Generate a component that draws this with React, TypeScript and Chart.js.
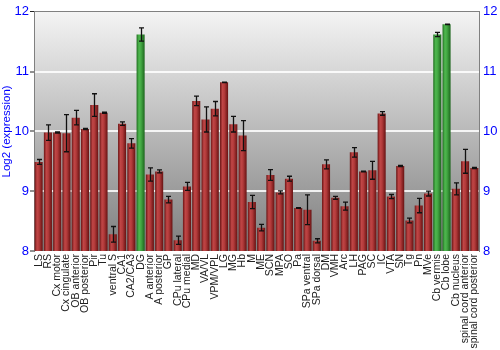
import React, { useEffect, useRef } from "react";
import { Chart, registerables } from "chart.js";

Chart.register(...registerables);

const categories = [
  "LS", "RS", "Cx motor", "Cx cingulate", "OB anterior", "OB posterior", "Pir", "Tu",
  "ventral S", "CA1", "CA2/CA3", "DG", "A anterior", "A posterior", "GP", "CPu lateral",
  "CPu medial", "MD", "VA/VL", "VPM/VPL", "LG", "MG", "Hb", "M", "ME", "SCN", "MPA",
  "SO", "Pa", "SPa ventral", "SPa dorsal", "DM", "VMH", "Arc", "LH", "PAG", "SC", "IC",
  "VTA", "SN", "Tg", "Pn", "MVe", "Cb vermis", "Cb lobe", "Cb nucleus",
  "spinal cord anterior", "spinal cord posterior",
];

const expression = [
  9.49, 9.98, 9.98, 9.97, 10.23, 10.04, 10.44, 10.31,
  8.28, 10.13, 9.80, 11.62, 9.28, 9.33, 8.86, 8.18,
  9.08, 10.51, 10.20, 10.38, 10.82, 10.12, 9.93, 8.82, 8.39, 9.27, 8.98,
  9.21, 8.72, 8.69, 8.17, 9.45, 8.89, 8.75, 9.65, 9.33, 9.35, 10.30,
  8.91, 9.42, 8.51, 8.76, 8.96, 11.62, 11.79, 9.04,
  9.50, 9.39,
];

const errorValues = [
  0.04, 0.13, 0.01, 0.31, 0.12, 0.01, 0.19, 0.01,
  0.13, 0.03, 0.08, 0.11, 0.11, 0.025, 0.055, 0.07,
  0.066, 0.08, 0.21, 0.12, 0.005, 0.13, 0.25, 0.11, 0.055, 0.09, 0.025,
  0.04, 0.005, 0.25, 0.035, 0.075, 0.025, 0.066, 0.08, 0.005, 0.15, 0.03,
  0.035, 0.01, 0.04, 0.12, 0.04, 0.035, 0.005, 0.1,
  0.2, 0.01,
];

const highlighted = ["DG", "Cb vermis", "Cb lobe"];

const yTicks = [8, 9, 10, 11, 12];

const FONT = "'Liberation Sans', Arial, sans-serif";

const bgPlugin = {
  id: "bgGradient",
  beforeDraw(chart: any) {
    const { ctx, chartArea } = chart;
    if (!chartArea) return;
    const g = ctx.createLinearGradient(0, chartArea.top, 0, chartArea.bottom);
    g.addColorStop(0, "#f4f4f4");
    g.addColorStop(1, "#7e7e7e");
    ctx.save();
    ctx.fillStyle = g;
    ctx.fillRect(chartArea.left, chartArea.top, chartArea.right - chartArea.left, chartArea.bottom - chartArea.top);
    ctx.restore();
  },
};

const errorPlugin = {
  id: "errorBars",
  afterDatasetsDraw(chart: any) {
    const { ctx } = chart;
    const y = chart.scales.y;
    const meta = chart.getDatasetMeta(0);
    ctx.save();
    ctx.strokeStyle = "#111";
    ctx.lineWidth = 1.3;
    meta.data.forEach((el: any, i: number) => {
      const v = expression[i];
      const e = errorValues[i];
      const x = Math.round(el.x) + 0.5;
      const top = y.getPixelForValue(v + e);
      const bot = y.getPixelForValue(v - e);
      ctx.beginPath();
      ctx.moveTo(x, top);
      ctx.lineTo(x, bot);
      ctx.moveTo(x - 2.5, top);
      ctx.lineTo(x + 2.5, top);
      ctx.moveTo(x - 2.5, bot);
      ctx.lineTo(x + 2.5, bot);
      ctx.stroke();
    });
    ctx.restore();
  },
};

function barFill(context: any) {
  const chart = context.chart;
  const xs = chart.scales && chart.scales.x;
  const area = chart.chartArea;
  const name = categories[context.dataIndex];
  const green = highlighted.includes(name);
  if (!xs || !area || context.dataIndex === undefined) return green ? "#3c9c3c" : "#a83434";
  const cx = xs.getPixelForValue(context.dataIndex);
  const w = (area.right - area.left) / categories.length * 0.87;
  const g = chart.ctx.createLinearGradient(cx - w / 2, 0, cx + w / 2, 0);
  if (green) {
    g.addColorStop(0, "#1f6e1f");
    g.addColorStop(0.3, "#4fb84f");
    g.addColorStop(0.55, "#43a843");
    g.addColorStop(1, "#1d651d");
  } else {
    g.addColorStop(0, "#6a1414");
    g.addColorStop(0.3, "#c04646");
    g.addColorStop(0.55, "#b23a3a");
    g.addColorStop(1, "#661212");
  }
  return g;
}

export default function App() {
  const ref = useRef<HTMLCanvasElement | null>(null);

  useEffect(() => {
    document.body.style.margin = "0";
    if (!ref.current) return;
    const chart = new Chart(ref.current, {
      type: "bar",
      data: {
        labels: categories,
        datasets: [
          {
            data: expression,
            backgroundColor: barFill as any,
            borderWidth: 0,
            categoryPercentage: 1,
            barPercentage: 0.87,
          },
        ],
      },
      options: {
        responsive: false,
        animation: false,
        layout: { padding: { top: 10, left: 0, right: 0, bottom: 0 } },
        plugins: { legend: { display: false }, tooltip: { enabled: false } },
        scales: {
          x: {
            grid: { display: false, drawTicks: false },
            border: { display: false },
            ticks: {
              autoSkip: false,
              minRotation: 90,
              maxRotation: 90,
              padding: 3,
              color: "#222",
              font: { family: FONT, size: 10.5 },
            },
            afterFit(scale: any) {
              scale.height = 99;
            },
          },
          y: {
            position: "left",
            min: 8,
            max: 12,
            afterBuildTicks(scale: any) {
              scale.ticks = yTicks.map((v) => ({ value: v }));
            },
            grid: {
              color: (c: any) =>
                c.tick && c.tick.value === 12
                  ? "#808080"
                  : c.tick && c.tick.value === 8
                  ? "rgba(0,0,0,0)"
                  : "rgba(255,255,255,0.85)",
              lineWidth: (c: any) => (c.tick && c.tick.value === 12 ? 1 : 2),
              tickLength: 4,
              tickColor: "#222",
              tickWidth: 1,
            },
            border: { display: true, color: "#808080", width: 1 },
            ticks: {
              padding: 1,
              color: "#0000ff",
              font: { family: FONT, size: 13 },
            },
            title: {
              display: true,
              text: "Log2 (expression)",
              color: "#0000ff",
              font: { family: FONT, size: 11.5 },
              padding: { top: 0, bottom: 0 },
            },
            afterFit(scale: any) {
              scale.width = 34;
            },
          },
          y2: {
            position: "right",
            min: 8,
            max: 12,
            afterBuildTicks(scale: any) {
              scale.ticks = yTicks.map((v) => ({ value: v }));
            },
            grid: { display: false, drawTicks: false },
            border: { display: true, color: "#808080", width: 1 },
            ticks: {
              padding: 4,
              color: "#0000ff",
              font: { family: FONT, size: 13 },
            },
            afterFit(scale: any) {
              scale.width = 21;
            },
          },
        },
      },
      plugins: [bgPlugin, errorPlugin],
    });
    return () => chart.destroy();
  }, []);

  return (
    <div style={{ width: 500, height: 350 }}>
      <canvas ref={ref} width={500} height={350} />
    </div>
  );
}
